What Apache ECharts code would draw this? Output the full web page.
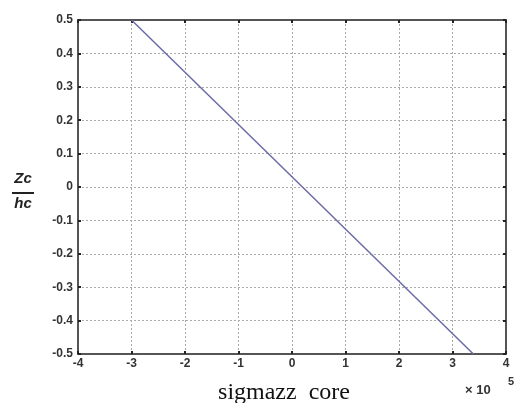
<!DOCTYPE html>
<html>
<head>
<meta charset="utf-8">
<script src="https://cdn.jsdelivr.net/npm/echarts@6/dist/echarts.min.js"></script>
<style>
html, body { margin: 0; padding: 0; background: #fff; }
#chart { width: 520px; height: 403px; }
</style>
</head>
<body>
<div id="chart"></div>
<script>
// sigmazz core (x 10^5) vs Zc/hc
var sigmaValues = [-3.0e5, 3.39e5];
var zcValues = [0.5, -0.5];

var chartDom = document.getElementById('chart');
var myChart = echarts.init(chartDom);

var points = sigmaValues.map(function (v, i) { return [v, zcValues[i]]; });

var labelStyle = { color: '#333', fontSize: 12, fontWeight: 'bold', fontFamily: 'Liberation Sans' };
var frameLine = { show: true, onZero: false, lineStyle: { color: '#555', width: 2 } };
var innerTick = { show: true, inside: true, length: 3, lineStyle: { color: '#222', width: 2 } };
var dotted = { show: true, lineStyle: { color: '#aaa', type: [2, 2], width: 1 } };

var option = {
    animation: false,
    grid: { left: 78, right: 14, top: 20, bottom: 49 },
    xAxis: [
        {
            type: 'value', min: -4e5, max: 4e5, interval: 1e5,
            axisLine: frameLine,
            axisTick: innerTick,
            axisLabel: Object.assign({ margin: 4, formatter: function (v) { return String(Math.round(v / 1e5)); } }, labelStyle),
            splitLine: dotted
        },
        {
            type: 'value', min: -4e5, max: 4e5, interval: 1e5, position: 'top',
            axisLine: frameLine,
            axisTick: innerTick,
            axisLabel: { show: false },
            splitLine: { show: false }
        }
    ],
    yAxis: [
        {
            type: 'value', min: -0.5, max: 0.5, interval: 0.1,
            axisLine: frameLine,
            axisTick: innerTick,
            axisLabel: Object.assign({ margin: 5, formatter: function (v) {
                var r = Math.round(v * 10) / 10;
                return r === 0 ? '0' : r.toFixed(1);
            } }, labelStyle),
            splitLine: dotted
        },
        {
            type: 'value', min: -0.5, max: 0.5, interval: 0.1, position: 'right',
            axisLine: frameLine,
            axisTick: innerTick,
            axisLabel: { show: false },
            splitLine: { show: false }
        }
    ],
    graphic: [
        { type: 'text', x: 23, y: 179, style: { text: 'Zc', font: 'italic bold 15px Liberation Sans', fill: '#222', align: 'center', verticalAlign: 'middle' } },
        { type: 'line', shape: { x1: 12, y1: 193, x2: 34, y2: 193 }, style: { stroke: '#222', lineWidth: 2 } },
        { type: 'text', x: 23, y: 204, style: { text: 'hc', font: 'italic bold 15px Liberation Sans', fill: '#222', align: 'center', verticalAlign: 'middle' } },
        { type: 'text', x: 284, y: 393, style: { text: 'sigmazz  core', font: '24px Liberation Serif', fill: '#111', align: 'center', verticalAlign: 'middle' } },
        { type: 'text', x: 465, y: 390, style: { text: '\u00d7 10', font: 'bold 13px Liberation Sans', fill: '#333', verticalAlign: 'middle' } },
        { type: 'text', x: 508, y: 382, style: { text: '5', font: 'bold 11px Liberation Sans', fill: '#333', verticalAlign: 'middle' } }
    ],
    series: [
        {
            type: 'line',
            data: points,
            showSymbol: false,
            lineStyle: { color: '#6b6ba8', width: 1.5 }
        }
    ]
};

option && myChart.setOption(option);
window.addEventListener('resize', function () {
    myChart.resize();
});
</script>
</body>
</html>
